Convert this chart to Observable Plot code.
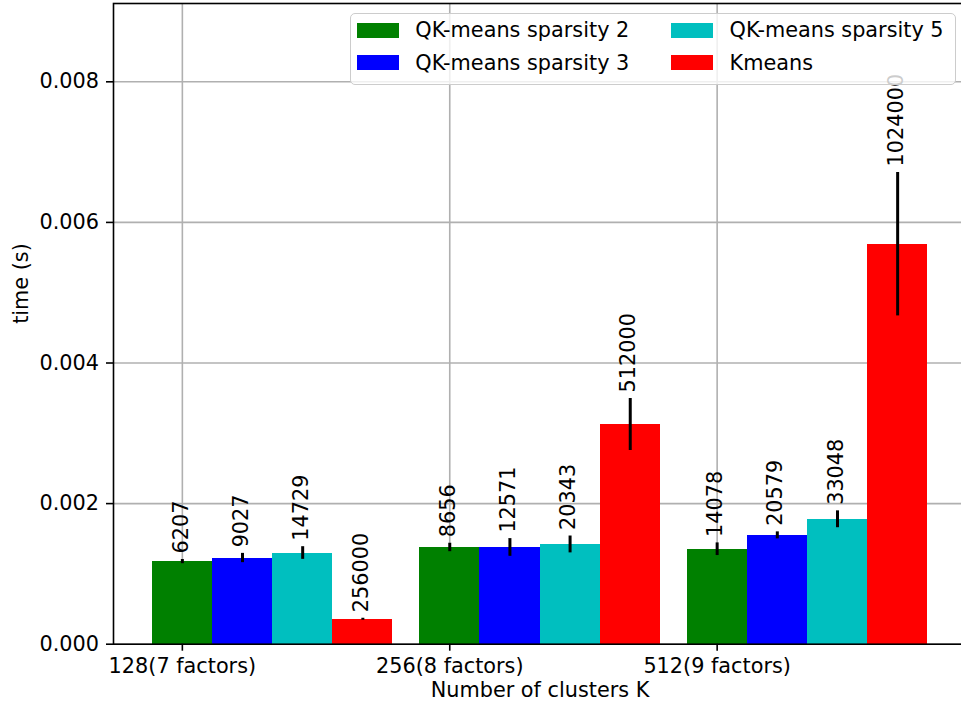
<!DOCTYPE html>
<html>
<head>
<meta charset="utf-8">
<script src="https://cdn.jsdelivr.net/npm/d3@7"></script>
<script src="https://cdn.jsdelivr.net/npm/@observablehq/plot@0.6"></script>
<style>
html, body { margin: 0; padding: 0; background: #fff; }
#wrap { position: relative; width: 961px; height: 706px; overflow: hidden; font-family: "DejaVu Sans"; background: #fff; }
#legend {
  position: absolute; left: 349.8px; top: 13.3px; box-sizing: border-box;
  width: 606px; height: 72px;
  border: 1.6px solid #cccccc; border-radius: 5px;
  background: rgba(255,255,255,0.8);
  display: grid; grid-auto-flow: column;
  grid-template-rows: 24px 24px; grid-template-columns: 314.3px auto;
  row-gap: 8.3px; padding: 4.1px 0 0 6.3px;
  font-family: "DejaVu Sans"; font-size: 20.8px; color: #000;
}
#legend .item { display: flex; align-items: center; height: 24px; line-height: 24px; white-space: nowrap; }
#legend .sw { width: 41.6px; height: 14.6px; margin-right: 16.6px; flex: none; }
</style>
</head>
<body>
<div id="wrap"></div>
<script>
// ---- data ----
const groups = ["128(7 factors)", "256(8 factors)", "512(9 factors)"];
const seriesNames = ["QK-means sparsity 2", "QK-means sparsity 3", "QK-means sparsity 5", "Kmeans"];
const seriesColors = ["#008000", "#0000ff", "#00bfbf", "#ff0000"];

const sp2Time = [0.001175, 0.001376, 0.001351];
const sp3Time = [0.001226, 0.001376, 0.001548];
const sp5Time = [0.001297, 0.001419, 0.001777];
const kmTime  = [0.000355, 0.003125, 0.005690];

const sp2Std = [0.000030, 0.000060, 0.000090];
const sp3Std = [0.000066, 0.000126, 0.000050];
const sp5Std = [0.000090, 0.000120, 0.000120];
const kmStd  = [0.000014, 0.000370, 0.001020];

const sp2Labels = ["6207", "8656", "14078"];
const sp3Labels = ["9027", "12571", "20579"];
const sp5Labels = ["14729", "20343", "33048"];
const kmLabels  = ["256000", "512000", "1024000"];

const yTicks = [0, 0.002, 0.004, 0.006, 0.008];
const xTicks = [0, 1, 2];
const xLimits = [-0.2575, 2.9325];
const yLimits = [0, 0.009114];
const xLabel = "Number of clusters K";
const yLabel = "time (s)";
const barWidth = 0.225;

// ---- table ----
const times = [sp2Time, sp3Time, sp5Time, kmTime];
const stds = [sp2Std, sp3Std, sp5Std, kmStd];
const labels = [sp2Labels, sp3Labels, sp5Labels, kmLabels];
const rows = [];
groups.forEach((g, gi) => {
  seriesNames.forEach((s, si) => {
    rows.push({gi, si, series: s, value: times[si][gi], std: stds[si][gi], label: labels[si][gi]});
  });
});
const cx = d => d.gi + d.si * barWidth;

const FS = 20.8;
const plot = Plot.plot({
  width: 966, height: 706,
  marginLeft: 113, marginRight: 0, marginTop: 3, marginBottom: 62.3,
  style: {fontFamily: "DejaVu Sans", fontSize: FS + "px", color: "#000", background: "transparent", maxWidth: "none", overflow: "visible"},
  x: {type: "linear", domain: xLimits},
  y: {type: "linear", domain: yLimits},
  color: {domain: seriesNames, range: seriesColors},
  marks: [
    Plot.gridX({ticks: xTicks, stroke: "#b0b0b0", strokeOpacity: 1, strokeWidth: 1.6}),
    Plot.gridY({ticks: yTicks, stroke: "#b0b0b0", strokeOpacity: 1, strokeWidth: 1.6}),
    Plot.rect(rows, {
      x1: d => cx(d) - barWidth / 2, x2: d => cx(d) + barWidth / 2,
      y1: 0, y2: "value", fill: "series", shapeRendering: "crispEdges"
    }),
    Plot.ruleX(rows, {x: cx, y1: d => d.value - d.std, y2: d => d.value + d.std, stroke: "#000", strokeWidth: 3}),
    Plot.text(rows, {
      x: cx, y: d => d.value + d.std, text: "label", rotate: -90,
      textAnchor: "start", dy: -6, dx: -1.5, fontSize: FS, fill: "#000"
    }),
    Plot.frame({stroke: "#000", strokeWidth: 1.6}),
    Plot.axisY({ticks: yTicks, tickFormat: d3.format(".3f"), tickSize: 7, tickPadding: 7.5, label: null, fontSize: FS, strokeWidth: 1.6, color: "#000"}),
    Plot.axisX({ticks: xTicks, tickFormat: i => groups[i], tickSize: 7, tickPadding: 7, label: null, fontSize: FS, strokeWidth: 1.6, color: "#000"}),
    Plot.text([xLabel], {frameAnchor: "bottom", text: d => d, dy: 53, fontSize: FS, fill: "#000"}),
    Plot.text([yLabel], {frameAnchor: "left", text: d => d, dx: -92.5, rotate: -90, fontSize: FS, fill: "#000"})
  ]
});

const wrap = document.getElementById("wrap");
wrap.appendChild(plot);

// ---- legend (overlay, top right inside axes) ----
const legend = document.createElement("div");
legend.id = "legend";
seriesNames.forEach((s, i) => {
  const item = document.createElement("div");
  item.className = "item";
  const sw = document.createElement("span");
  sw.className = "sw";
  sw.style.background = seriesColors[i];
  const t = document.createElement("span");
  t.textContent = s;
  item.appendChild(sw);
  item.appendChild(t);
  legend.appendChild(item);
});
wrap.appendChild(legend);
</script>
</body>
</html>
